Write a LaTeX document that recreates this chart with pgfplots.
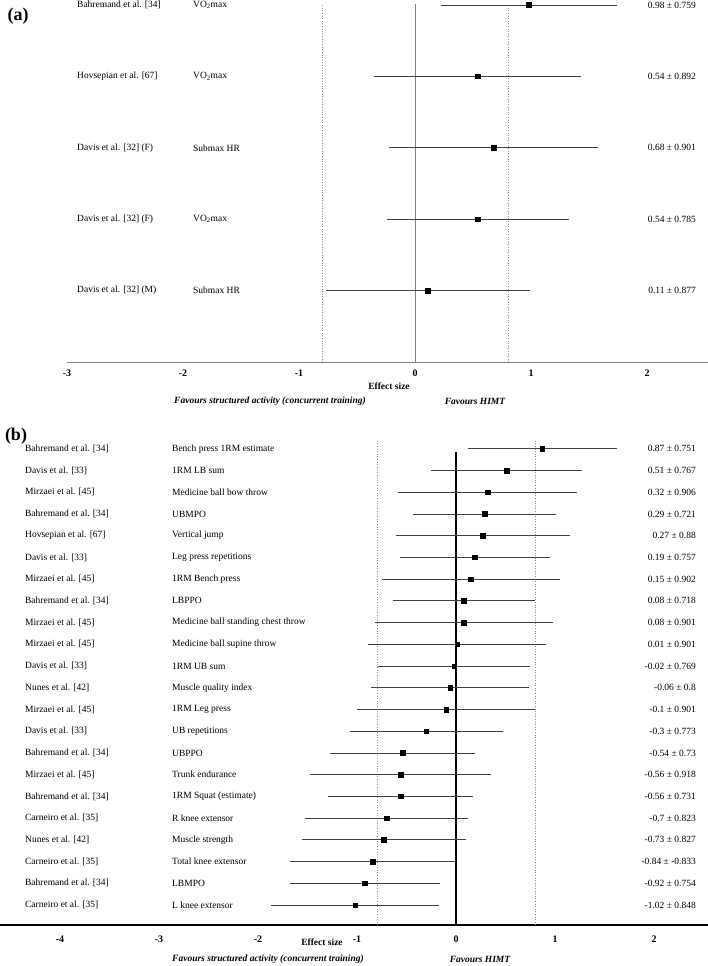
\documentclass[border=0pt]{standalone}
\usepackage{pgfplots}
\pgfplotsset{compat=1.18}
\usepackage{pgfplotstable}
\usepackage{fontspec}
\setmainfont{Liberation Serif}

\newcommand\lab{\fontsize{9.5}{11}\selectfont}

% panel (a): cardiorespiratory outcomes
\pgfplotstableread[col sep=comma]{
row,es,ci,study,outcome,val
5,0.98,0.759,Bahremand et al. [34],VO\textsubscript{2}max,0.98 ± 0.759
4,0.54,0.892,Hovsepian et al. [67],VO\textsubscript{2}max,0.54 ± 0.892
3,0.68,0.901,Davis et al. [32] (F),Submax HR,0.68 ± 0.901
2,0.54,0.785,Davis et al. [32] (F),VO\textsubscript{2}max,0.54 ± 0.785
1,0.11,0.877,Davis et al. [32] (M),Submax HR,0.11 ± 0.877
}\tabA

% panel (b): muscular outcomes
\pgfplotstableread[col sep=comma]{
row,es,ci,study,outcome,val
22,0.87,0.751,Bahremand et al. [34],Bench press 1RM estimate,0.87 ± 0.751
21,0.51,0.767,Davis et al. [33],1RM LB sum,0.51 ± 0.767
20,0.32,0.906,Mirzaei et al. [45],Medicine ball bow throw,0.32 ± 0.906
19,0.29,0.721,Bahremand et al. [34],UBMPO,0.29 ± 0.721
18,0.27,0.88,Hovsepian et al. [67],Vertical jump,0.27 ± 0.88
17,0.19,0.757,Davis et al. [33],Leg press repetitions,0.19 ± 0.757
16,0.15,0.902,Mirzaei et al. [45],1RM Bench press,0.15 ± 0.902
15,0.08,0.718,Bahremand et al. [34],LBPPO,0.08 ± 0.718
14,0.08,0.901,Mirzaei et al. [45],Medicine ball standing chest throw,0.08 ± 0.901
13,0.01,0.901,Mirzaei et al. [45],Medicine ball supine throw,0.01 ± 0.901
12,-0.02,0.769,Davis et al. [33],1RM UB sum,-0.02 ± 0.769
11,-0.06,0.8,Nunes et al. [42],Muscle quality index,-0.06 ± 0.8
10,-0.1,0.901,Mirzaei et al. [45],1RM Leg press,-0.1 ± 0.901
9,-0.3,0.773,Davis et al. [33],UB repetitions,-0.3 ± 0.773
8,-0.54,0.73,Bahremand et al. [34],UBPPO,-0.54 ± 0.73
7,-0.56,0.918,Mirzaei et al. [45],Trunk endurance,-0.56 ± 0.918
6,-0.56,0.731,Bahremand et al. [34],1RM Squat (estimate),-0.56 ± 0.731
5,-0.7,0.823,Carneiro et al. [35],R knee extensor,-0.7 ± 0.823
4,-0.73,0.827,Nunes et al. [42],Muscle strength,-0.73 ± 0.827
3,-0.84,0.833,Carneiro et al. [35],Total knee extensor,-0.84 ± -0.833
2,-0.92,0.754,Bahremand et al. [34],LBMPO,-0.92 ± 0.754
1,-1.02,0.848,Carneiro et al. [35],L knee extensor,-1.02 ± 0.848
}\tabB

\pgfplotsset{
  forest/.style={
    scale only axis, clip=false, anchor=south west,
    hide y axis, axis x line*=bottom,
    major tick length=0pt,
    xticklabel style={font=\fontsize{10}{12}\selectfont\bfseries},
    point meta=explicit symbolic,
  },
  txt/.style={only marks, mark=none, nodes near coords,
    every node near coord/.style={anchor=#1, inner sep=0pt, font=\lab, black}},
  est/.style={only marks, mark=square*, mark size=2.3pt, black,
    error bars/.cd, x dir=both, x explicit, error mark=none,
    error bar style={black!75, line width=0.8pt}},
}

\begin{document}
\begin{tikzpicture}
\useasboundingbox (0,0) rectangle (708pt,966pt);

\begin{axis}[forest, at={(67pt,604pt)}, width=641pt, height=362pt,
  xmin=-3, xmax=2.525, ymin=0, ymax=5.07,
  xtick={-3,-2,-1,0,1,2}, xticklabels={-3,-2,-1,0,1,2},
  xticklabel style={yshift=-4pt},
  x axis line style={black!50, line width=0.7pt}]
\addplot[black!45, dotted, line width=0.6pt] coordinates {(-0.8,0) (-0.8,5.02)};
\addplot[black!45, dotted, line width=0.6pt] coordinates {(0.8,0) (0.8,5.02)};
\addplot[black!50, line width=0.7pt] coordinates {(0,0) (0,5.02)};
\addplot[est] table[x=es, y=row, x error=ci] {\tabA};
\addplot[txt=west] table[x expr=-2.914, y=row, meta=study] {\tabA};
\addplot[txt=west] table[x expr=-1.914, y=row, meta=outcome] {\tabA};
\addplot[txt=east] table[x expr=2.422, y=row, meta=val] {\tabA};
\end{axis}

\begin{axis}[forest, at={(0pt,41pt)}, width=708pt, height=486pt,
  xmin=-4.606, xmax=2.545, ymin=0.08, ymax=22.45,
  xtick={-4,-3,-2,-1,0,1,2}, xticklabels={-4,-3,-2,-1,0,1,2},
  xticklabel style={yshift=-7pt},
  x axis line style={black, line width=1.3pt}]
\addplot[black!45, dotted, line width=0.6pt] coordinates {(-0.8,0.08) (-0.8,22.45)};
\addplot[black!45, dotted, line width=0.6pt] coordinates {(0.8,0.08) (0.8,22.45)};
\addplot[black, line width=1.1pt] coordinates {(0,0.08) (0,21.85)};
\addplot[est] table[x=es, y=row, x error=ci] {\tabB};
\addplot[txt=west] table[x expr=-4.354, y=row, meta=study] {\tabB};
\addplot[txt=west] table[x expr=-2.869, y=row, meta=outcome] {\tabB};
\addplot[txt=east] table[x expr=2.424, y=row, meta=val] {\tabB};
\end{axis}

\node[font=\fontsize{18}{20}\selectfont\bfseries] at (18pt,950pt) {(a)};
\node[font=\fontsize{18}{20}\selectfont\bfseries] at (16pt,530pt) {(b)};

\node[font=\lab\bfseries] at (389pt,580pt) {Effect size};
\node[font=\lab\bfseries\itshape] at (270pt,565pt) {Favours structured activity (concurrent training)};
\node[font=\lab\bfseries\itshape] at (475pt,565pt) {Favours HIMT};

\node[font=\lab\bfseries] at (322pt,24pt) {Effect size};
\node[font=\lab\bfseries\itshape] at (268pt,7pt) {Favours structured activity (concurrent training)};
\node[font=\lab\bfseries\itshape] at (480pt,7pt) {Favours HIMT};
\end{tikzpicture}
\end{document}
